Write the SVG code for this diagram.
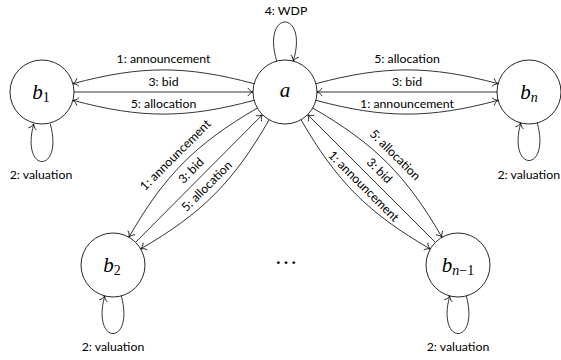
<svg xmlns="http://www.w3.org/2000/svg" width="561" height="360" viewBox="0 0 561 360">
<style>
.node{fill:#fff;stroke:#000;stroke-width:0.85}
.edge{fill:none;stroke:#000;stroke-width:0.8;marker-end:url(#ah)}
.lbl{font-family:Lato,"Open Sans",sans-serif;font-size:12.3px;fill:#000;text-anchor:middle}
.math{font-family:"Liberation Serif",serif;font-style:italic;font-size:21px;fill:#000;text-anchor:middle}
.sub{font-size:14px}
.up{font-style:normal}
</style>
<defs>
<marker id="ah" viewBox="-6 -5 8 10" refX="0" refY="0" markerWidth="8" markerHeight="10" markerUnits="userSpaceOnUse" orient="auto">
<path d="M-5,-3.8 C-4,-1.8 -1.5,-0.5 0,0 C-1.5,0.5 -4,1.8 -5,3.8" fill="none" stroke="#000" stroke-width="0.8" stroke-linecap="round"/>
</marker>
</defs>
<rect width="561" height="360" fill="#fff"/>
<g id="connectors">
<!-- a <-> b1 -->
<path class="edge" d="M254.1,83.7 C185.6,65.3 141.4,65.3 72.9,83.7"/>
<path class="edge" d="M74,92 L253,92"/>
<path class="edge" d="M254.1,100.3 C185.6,118.7 141.4,118.7 72.9,100.3"/>
<!-- a <-> bn -->
<path class="edge" d="M315.9,83.7 C384.4,65.3 429.6,65.3 498.1,83.7"/>
<path class="edge" d="M497,92 L317,92"/>
<path class="edge" d="M315.9,100.3 C384.4,118.7 429.6,118.7 498.1,100.3"/>
<!-- a <-> b2 -->
<path class="edge" d="M257.3,108.1 C195.6,143.9 164.4,175.4 128.9,237.2"/>
<path class="edge" d="M135.6,242.3 L262.4,114.7"/>
<path class="edge" d="M269.1,119.8 C233.6,181.7 202.4,213.1 140.7,248.9"/>
<!-- a <-> bn-1 -->
<path class="edge" d="M312.7,108 C374.7,143.8 406.2,175.3 442,237.3"/>
<path class="edge" d="M435.4,242.4 L307.6,114.6"/>
<path class="edge" d="M301,119.7 C336.8,181.7 368.3,213.2 430.3,249"/>
<!-- self loops -->
<path class="edge" d="M276.7,61.1 C261.2,8.9 308.8,8.9 293.3,61.1"/>
<path class="edge" d="M50.3,123.9 C63.8,174.1 20.2,174.1 33.7,123.9"/>
<path class="edge" d="M537.3,122.9 C550.8,173.1 507.2,173.1 520.7,122.9"/>
<path class="edge" d="M121.3,295.9 C134.8,346.1 91.2,346.1 104.7,295.9"/>
<path class="edge" d="M466.3,295.9 C479.8,346.1 436.2,346.1 449.7,295.9"/>
</g>
<g id="edge-labels">
<text class="lbl" x="163.5" y="63">1: announcement</text>
<text class="lbl" x="163.5" y="86">3: bid</text>
<text class="lbl" x="163.5" y="107.5">5: allocation</text>
<text class="lbl" x="407" y="63">5: allocation</text>
<text class="lbl" x="407" y="86">3: bid</text>
<text class="lbl" x="407" y="107.5">1: announcement</text>
<text class="lbl" transform="translate(175.5,155.1) rotate(-45)" y="4">1: announcement</text>
<text class="lbl" transform="translate(191.2,170.7) rotate(-45)" y="4">3: bid</text>
<text class="lbl" transform="translate(206.9,186.3) rotate(-45)" y="4">5: allocation</text>
<text class="lbl" transform="translate(395,155) rotate(45)" y="4">5: allocation</text>
<text class="lbl" transform="translate(379.3,170.7) rotate(45)" y="4">3: bid</text>
<text class="lbl" transform="translate(363.6,186.4) rotate(45)" y="4">1: announcement</text>
<text class="lbl" x="286" y="15">4: WDP</text>
<text class="lbl" x="41" y="179">2: valuation</text>
<text class="lbl" x="560" y="179" style="text-anchor:end">2: valuation</text>
<text class="lbl" x="113" y="351">2: valuation</text>
<text class="lbl" x="458" y="351">2: valuation</text>
</g>
<g id="node-a">
<circle class="node" cx="285" cy="92" r="32"/>
<text class="math" x="285" y="97">a</text>
</g>
<g id="node-b1">
<circle class="node" cx="42" cy="92" r="32"/>
<text class="math" x="41" y="99">b<tspan class="sub up" dy="3">1</tspan></text>
</g>
<g id="node-bn">
<circle class="node" cx="529" cy="92" r="32"/>
<text class="math" x="529" y="99">b<tspan class="sub" dy="3">n</tspan></text>
</g>
<g id="node-b2">
<circle class="node" cx="113" cy="265" r="32"/>
<text class="math" x="112" y="272">b<tspan class="sub up" dy="3">2</tspan></text>
</g>
<g id="node-bn1">
<circle class="node" cx="458" cy="265" r="32"/>
<text class="math" x="458" y="272">b<tspan class="sub" dy="3">n</tspan><tspan class="sub up">−1</tspan></text>
</g>
<g id="dots">
<text class="math up" x="286" y="264" style="font-size:23px">…</text>
</g>
</svg>
